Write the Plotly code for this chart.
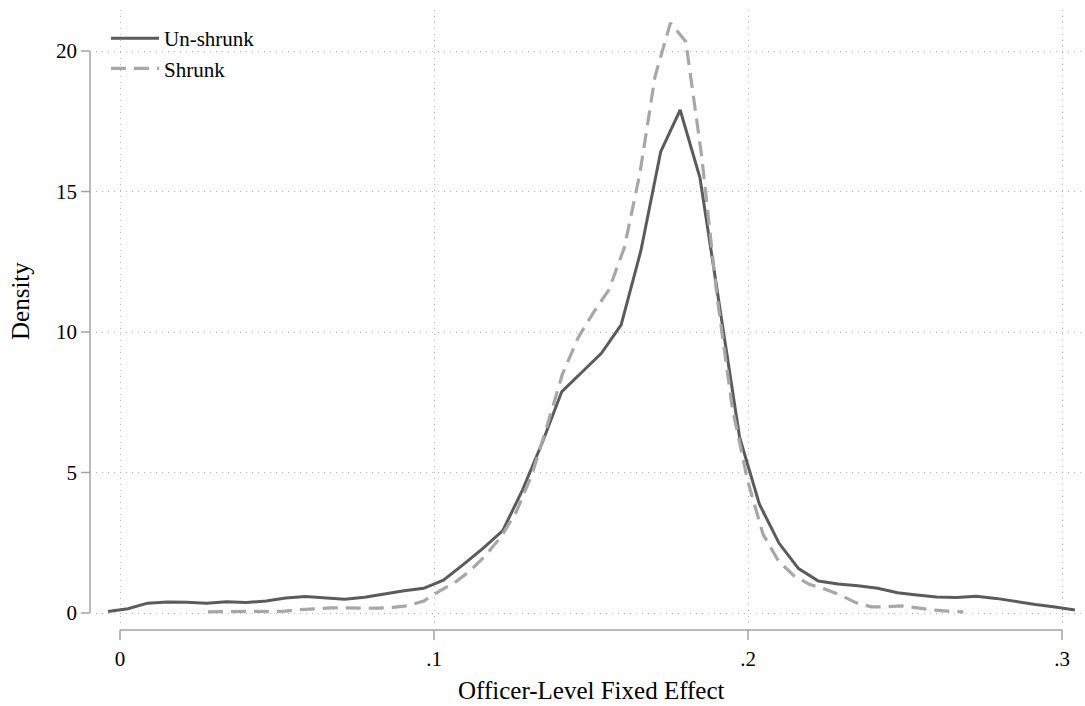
import plotly.graph_objects as go

# ---------------- data ----------------
unshrunk_x = [-0.0038, 0.0025, 0.0088, 0.0151, 0.0213, 0.0276, 0.0339, 0.0402, 0.0465, 0.0528,
              0.0590, 0.0653, 0.0716, 0.0779, 0.0842, 0.0905, 0.0967, 0.1030, 0.1093, 0.1156,
              0.1219, 0.1282, 0.1344, 0.1407, 0.1470, 0.1533, 0.1596, 0.1659, 0.1722, 0.1784,
              0.1847, 0.1910, 0.1973, 0.2036, 0.2099, 0.2161, 0.2224, 0.2287, 0.2350, 0.2413,
              0.2476, 0.2538, 0.2601, 0.2664, 0.2727, 0.2790, 0.2853, 0.2915, 0.2978, 0.3041]
unshrunk_y = [0.05, 0.15, 0.35, 0.39, 0.38, 0.35, 0.40, 0.37, 0.43, 0.53,
              0.59, 0.55, 0.49, 0.56, 0.68, 0.79, 0.88, 1.17, 1.72, 2.30,
              2.93, 4.38, 6.04, 7.88, 8.56, 9.24, 10.25, 12.90, 16.42, 17.90,
              15.49, 10.80, 6.27, 3.88, 2.48, 1.58, 1.14, 1.03, 0.97, 0.88,
              0.72, 0.64, 0.57, 0.55, 0.60, 0.52, 0.40, 0.30, 0.21, 0.11]

shrunk_x = [0.0280, 0.0329, 0.0378, 0.0427, 0.0476, 0.0526, 0.0575, 0.0624, 0.0673, 0.0722,
            0.0771, 0.0820, 0.0869, 0.0918, 0.0968, 0.1017, 0.1066, 0.1115, 0.1164, 0.1213,
            0.1262, 0.1311, 0.1360, 0.1409, 0.1459, 0.1508, 0.1557, 0.1606, 0.1655, 0.1704,
            0.1753, 0.1802, 0.1852, 0.1901, 0.1950, 0.1999, 0.2048, 0.2097, 0.2146, 0.2195,
            0.2244, 0.2294, 0.2343, 0.2392, 0.2441, 0.2490, 0.2539, 0.2588, 0.2637, 0.2686]
shrunk_y = [0.04, 0.05, 0.07, 0.06, 0.05, 0.07, 0.12, 0.16, 0.18, 0.18,
            0.18, 0.17, 0.20, 0.26, 0.43, 0.78, 1.08, 1.50, 2.05, 2.70,
            3.60, 4.90, 6.65, 8.50, 9.80, 10.70, 11.50, 13.00, 15.60, 19.10,
            21.00, 20.33, 16.30, 11.30, 7.30, 4.70, 2.80, 1.85, 1.33, 1.02,
            0.85, 0.64, 0.37, 0.22, 0.22, 0.25, 0.18, 0.11, 0.07, 0.04]

x_ticks = [0, 0.1, 0.2, 0.3]
x_tick_labels = ["0", ".1", ".2", ".3"]
y_ticks = [0, 5, 10, 15, 20]
y_tick_labels = ["0", "5", "10", "15", "20"]

series_names = ["Un-shrunk", "Shrunk"]
x_title = "Officer-Level Fixed Effect"
y_title = "Density"

# ---------------- style ----------------
W, H = 1085, 706
ML, MR, MT, MB = 96, 2, 10, 82
FONT = "Liberation Serif, Times New Roman, serif"
AXIS_COL = "#a3a3a3"
GRID_COL = "#b4b4b4"
SOLID_COL = "#5b5b5b"
DASH_COL = "#a7a7a7"

pw = W - ML - MR
ph = H - MT - MB


def px_x(p):  # pixel offset -> paper x
    return (p - ML) / pw


def px_y(p):  # pixel offset -> paper y
    return (H - MB - p) / ph


fig = go.Figure()
fig.add_trace(go.Scatter(x=unshrunk_x, y=unshrunk_y, mode="lines", name=series_names[0],
                         legendgroup="a",
                         line=dict(color=SOLID_COL, width=3)))
fig.add_trace(go.Scatter(x=shrunk_x, y=shrunk_y, mode="lines", name=series_names[1],
                         legendgroup="b",
                         line=dict(color=DASH_COL, width=3.2, dash="15px,8px")))

shapes = []
# y axis line (Stata style: spans first to last tick)
yax_x = px_x(90)
shapes.append(dict(type="line", xref="paper", yref="y", x0=yax_x, x1=yax_x,
                   y0=y_ticks[0], y1=y_ticks[-1], line=dict(color=AXIS_COL, width=1.5)))
for t in y_ticks:
    shapes.append(dict(type="line", xref="paper", yref="y", x0=px_x(81), x1=yax_x,
                       y0=t, y1=t, line=dict(color=AXIS_COL, width=1.5)))
# x axis line
xax_y = px_y(630)
shapes.append(dict(type="line", xref="x", yref="paper", x0=x_ticks[0], x1=x_ticks[-1],
                   y0=xax_y, y1=xax_y, line=dict(color=AXIS_COL, width=1.5)))
for t in x_ticks:
    shapes.append(dict(type="line", xref="x", yref="paper", x0=t, x1=t,
                       y0=xax_y, y1=px_y(640), line=dict(color=AXIS_COL, width=1.5)))

annotations = [
    dict(text=x_title, xref="x", yref="paper", x=0.15, y=px_y(690), showarrow=False,
         xanchor="center", yanchor="middle", font=dict(family=FONT, size=25, color="black")),
    dict(text=y_title, xref="paper", yref="paper", x=px_x(20), y=px_y(301), showarrow=False,
         textangle=-90, xanchor="center", yanchor="middle",
         font=dict(family=FONT, size=25, color="black")),
]

fig.update_layout(
    width=W, height=H,
    margin=dict(l=ML, r=MR, t=MT, b=MB, pad=0),
    paper_bgcolor="white", plot_bgcolor="white",
    font=dict(family=FONT, size=21, color="black"),
    shapes=shapes,
    annotations=annotations,
    showlegend=True,
    legend=dict(x=px_x(106), y=px_y(18), xanchor="left", yanchor="top",
                bgcolor="rgba(0,0,0,0)", borderwidth=0,
                font=dict(family=FONT, size=21, color="black"),
                itemwidth=48,
                tracegroupgap=0),
    xaxis=dict(range=[(96 - 120) / 3140, (1083 - 120) / 3140],
               tickvals=x_ticks, ticktext=x_tick_labels,
               showgrid=True, gridcolor=GRID_COL, griddash="1px,5px", gridwidth=1,
               zeroline=False, showline=False, ticks="",
               ticklabelstandoff=20,
               tickfont=dict(family=FONT, size=21, color="black")),
    yaxis=dict(range=[(613 - 624) / 28.1, (613 - 10) / 28.1],
               tickvals=y_ticks, ticktext=y_tick_labels,
               showgrid=True, gridcolor=GRID_COL, griddash="1px,5px", gridwidth=1,
               zeroline=False, showline=False, ticks="",
               ticklabelstandoff=18,
               tickfont=dict(family=FONT, size=21, color="black")),
)

fig.write_html("out.html")
